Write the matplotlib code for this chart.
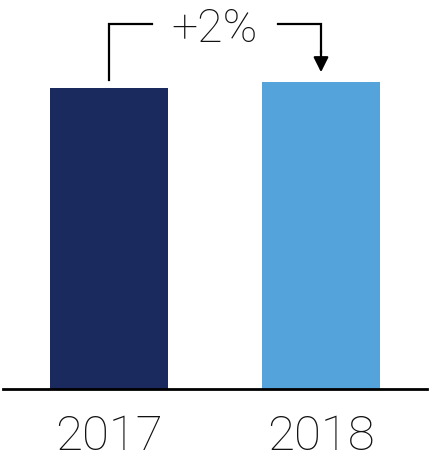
import matplotlib
matplotlib.use("Agg")
import matplotlib.pyplot as plt

years = ["2017", "2018"]
values = [100, 102]
colors = ["#1B2A5E", "#54A3DB"]

plt.rcParams["font.family"] = ["Roboto", "DejaVu Sans"]

fig = plt.figure(figsize=(4.29, 4.57), dpi=100)
ax = fig.add_axes([3 / 429, 68 / 457, 424 / 429, 389 / 457])

x = list(range(len(years)))
ax.bar(x, values, width=0.557, color=colors)
ax.set_xlim(-0.5, 1.5)
ax.set_ylim(0, 129.3)

for side in ["top", "right", "left"]:
    ax.spines[side].set_visible(False)
ax.spines["bottom"].set_linewidth(2)
ax.set_yticks([])
ax.set_xticks(x)
ax.set_xticklabels(years, fontsize=35.5, fontweight="light", color="#111111")
ax.tick_params(axis="x", length=0, pad=18)

# change bracket between the two bars
change = round((values[1] / values[0] - 1) * 100)
top = 121.3
ax.plot([0, 0, 0.203], [values[0] + 2.7, top, top], color="black", lw=1.6,
        solid_joinstyle="miter", clip_on=False)
ax.plot([0.797, 1, 1], [top, top, values[1] + 10], color="black", lw=1.6,
        solid_joinstyle="miter", clip_on=False)
ax.annotate("", xy=(1, values[1] + 3.3), xytext=(1, values[1] + 10.5),
            arrowprops=dict(arrowstyle="-|>,head_length=0.9,head_width=0.45",
                            color="black", lw=1.6, shrinkA=0, shrinkB=0))
ax.text(0.5, 119.6, f"+{change}%", ha="center", va="center", fontsize=33.5,
        fontweight="light", color="#111111")

fig.savefig("out.png", dpi=100)
